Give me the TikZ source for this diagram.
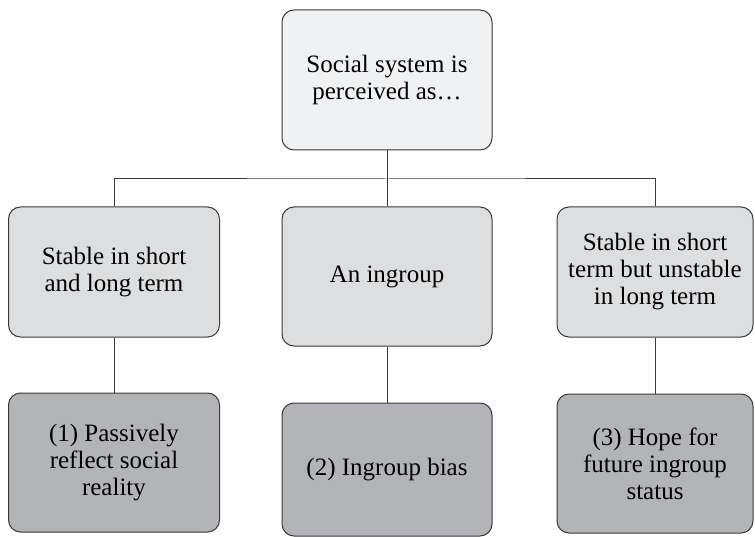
\documentclass[tikz,border=0pt]{standalone}
\usepackage{fontspec}
\setmainfont{Liberation Serif}
\usepackage{xcolor}
\usetikzlibrary{positioning}
\definecolor{lighttop}{HTML}{F0F1F3}
\definecolor{midgray}{HTML}{DDDEE0}
\definecolor{darkgray}{HTML}{B3B4B7}
\definecolor{edgegray}{HTML}{3A3A3A}

\begin{document}
\begin{tikzpicture}[x=1pt, y=-1pt,
    box/.style={draw=edgegray, line width=1pt, rounded corners=12pt, align=center, inner sep=0pt, font=\fontsize{25}{27}\selectfont},
    conn/.style={draw=edgegray, line width=1pt}]
        \useasboundingbox (0,0) rectangle (755,537);

        % top
        \node[box, fill=lighttop, minimum width=210pt, minimum height=140pt] (social) at (387,80) {Social system is\\perceived as…};

        % middle row
        \node[box, fill=midgray, minimum width=211pt, minimum height=130pt] (stable) at (114,272) {Stable in short\\and long term};
        \node[box, fill=midgray, minimum width=210pt, minimum height=139pt] (ingroup) at (387,276.5) {An ingroup};
        \node[box, fill=midgray, minimum width=196pt, minimum height=130pt] (unstable) at (655,272) {Stable in short\\term but unstable\\in long term};

        % bottom row
        \node[box, fill=darkgray, minimum width=211pt, minimum height=139pt] (passive) at (114,462.5) {(1) Passively\\reflect social\\reality};
        \node[box, fill=darkgray, minimum width=210pt, minimum height=133pt] (bias) at (387,469.5) {(2) Ingroup bias};
        \node[box, fill=darkgray, minimum width=196pt, minimum height=139pt] (hope) at (655,463.5) {(3) Hope for\\future ingroup\\status};

        % connectors
        \coordinate (split) at (387,179);
        \draw[conn] (social.south) -- (split);
        \draw[conn] (stable.north) |- (split) -| (unstable.north);
        \draw[conn] (split) -- (ingroup.north);
        \draw[conn] (stable.south) -- (passive.north);
        \draw[conn] (ingroup.south) -- (bias.north);
        \draw[conn] (unstable.south) -- (hope.north);
    \end{tikzpicture}
\end{document}
